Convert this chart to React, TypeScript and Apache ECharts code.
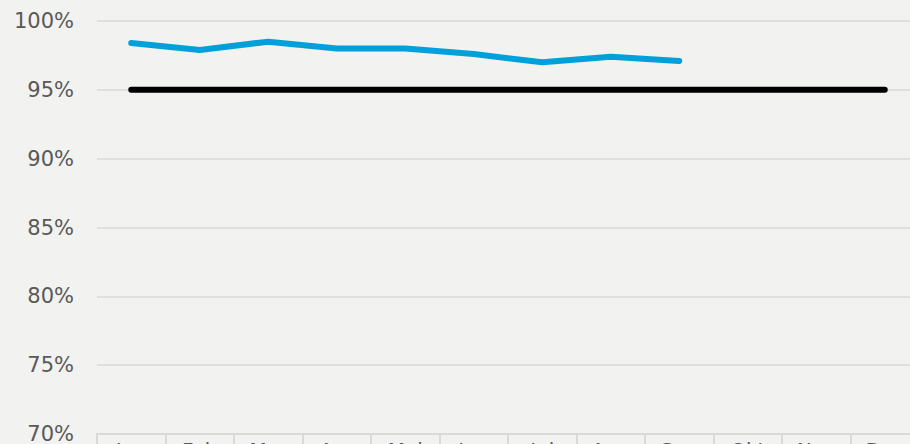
import React, { useEffect, useRef } from "react";
import * as echarts from "echarts";

const months = ["Jan", "Feb", "Mar", "Apr", "Mai", "Jun", "Jul", "Aug", "Sep", "Okt", "Nov", "Dez"];
const actual = [98.4, 97.9, 98.5, 98.0, 98.0, 97.6, 97.0, 97.4, 97.1, null, null, null];
const target = [95, 95, 95, 95, 95, 95, 95, 95, 95, 95, 95, 95];

export default function App() {
  const ref = useRef<HTMLDivElement>(null);
  useEffect(() => {
    document.body.style.margin = "0";
    const chart = echarts.init(ref.current!, undefined, { renderer: "svg" });
    chart.setOption({
      animation: false,
      backgroundColor: "#f2f2f0",
      grid: { left: 97, right: -9, top: 21, bottom: 10, containLabel: false, outerBoundsMode: "none" },
      xAxis: {
        type: "category",
        data: months,
        boundaryGap: true,
        axisLine: { lineStyle: { color: "#d9d9d9", width: 2 } },
        axisTick: { show: true, length: 20, lineStyle: { color: "#d9d9d9", width: 2 } },
        axisLabel: { color: "#595959", fontSize: 20, fontFamily: "DejaVu Sans", margin: 6 },
      },
      yAxis: {
        type: "value",
        min: 70,
        max: 100,
        interval: 5,
        axisLine: { show: false },
        axisTick: { show: false },
        axisLabel: {
          formatter: "{value}%",
          color: "#595959",
          fontSize: 21,
          fontFamily: "DejaVu Sans",
          margin: 23,
        },
        splitLine: { lineStyle: { color: "#d9d9d9", width: 1.5 } },
      },
      series: [
        {
          type: "line",
          data: target,
          symbol: "none",
          lineStyle: { color: "#000000", width: 6, cap: "round", join: "round" },
          z: 2,
        },
        {
          type: "line",
          data: actual,
          symbol: "none",
          lineStyle: { color: "#00a0da", width: 6, cap: "round", join: "round" },
          z: 3,
        },
      ],
    });
    return () => chart.dispose();
  }, []);
  return <div ref={ref} style={{ width: 910, height: 444 }} />;
}
